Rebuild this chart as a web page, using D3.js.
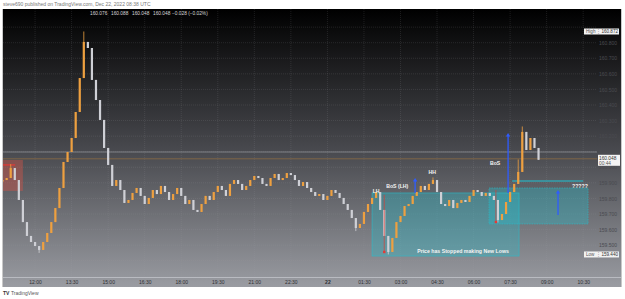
<!DOCTYPE html>
<html>
<head>
<meta charset="utf-8">
<script src="https://cdn.jsdelivr.net/npm/d3@7"></script>
<style>
body { margin: 0; background: #fff; }
svg { display: block; font-family: "Liberation Sans", Arial, sans-serif; }
</style>
</head>
<body>
<script>
var w = 625; // Width of the page
var h = 299; // Height of the page
var paneLeft = 3, paneRight = 597, frameRight = 621;
var paneTop = 9, paneBottom = 277, frameBottom = 287;

// helper for dates (Dec 2022)
function T(day, hh, mm) { return new Date(2022, 11, day, hh, mm); }

// 10 minute bars, first bar Dec 21 10:40
var firstBar = T(21, 10, 40);
var barMinutes = 10;
var closes = [
  159.918, 159.931, 159.995, 159.918, 159.790, 159.648, 159.559, 159.520, 159.494, 159.469,
  159.520, 159.578, 159.648, 159.738, 159.867, 160.034, 160.098, 160.188, 160.355, 160.573,
  160.805, 160.766, 160.561, 160.432, 160.304, 160.124, 160.015, 159.880, 159.918, 159.854,
  159.771, 159.790, 159.835, 159.867, 159.816, 159.764, 159.803, 159.854, 159.828, 159.880,
  159.841, 159.790, 159.828, 159.867, 159.816, 159.764, 159.790, 159.726, 159.713, 159.764,
  159.816, 159.790, 159.841, 159.880, 159.854, 159.816, 159.893, 159.918, 159.893, 159.854,
  159.880, 159.918, 159.944, 159.931, 159.893, 159.880, 159.931, 159.957, 159.918, 159.931,
  159.963, 159.950, 159.918, 159.880, 159.905, 159.867, 159.841, 159.816, 159.828, 159.790,
  159.816, 159.854, 159.835, 159.803, 159.764, 159.726, 159.674, 159.610, 159.636, 159.713,
  159.764, 159.803, 159.841, 159.726, 159.559, 159.456, 159.546, 159.648, 159.687, 159.751,
  159.764, 159.816, 159.841, 159.880, 159.854, 159.893, 159.918, 159.841, 159.764, 159.751,
  159.790, 159.738, 159.771, 159.790, 159.777, 159.816, 159.854, 159.841, 159.816, 159.835,
  159.816, 159.790, 159.661, 159.700, 159.777, 159.841, 159.893, 159.970, 160.227, 160.111,
  160.188, 160.124, 160.048
];
// a few long wicks seen on the chart: [bar index, price]
var wickHighs = [[2, 160.020], [20, 160.872], [106, 159.935], [127, 160.050], [128, 160.262]];
var wickLows = [[9, 159.450], [87, 159.590], [95, 159.440], [122, 159.645]];

var timeTicks = [T(21,12,0), T(21,13,30), T(21,15,0), T(21,16,30), T(21,18,0), T(21,19,30),
  T(21,21,0), T(21,22,30), T(22,0,0), T(22,1,30), T(22,3,0), T(22,4,30), T(22,6,0),
  T(22,7,30), T(22,9,0), T(22,10,30)];
var priceTicks = [159.4, 159.5, 159.6, 159.7, 159.8, 159.9, 160.0, 160.1, 160.2, 160.3,
  160.4, 160.5, 160.6, 160.7, 160.8, 160.9];
var highPrice = 160.872, lowPrice = 159.440, lastPrice = 160.048, refLine = 160.098;
var legendValues = ["160.076", "160.088", "160.048", "160.048", "\u22120.028 (\u22120.02%)"];

// drawings
var boxes = [
  { t0: T(21,10,41), t1: T(21,11,30), p0: 160.047, p1: 159.848, kind: "red" },
  { t0: T(22,1,50), t1: T(22,7,52), p0: 159.835, p1: 159.430, kind: "teal" },
  { t0: T(22,6,38), t1: T(22,10,42), p0: 159.867, p1: 159.636, kind: "teal2" }
];
var hLines = [
  { t0: T(21,10,41), t1: T(21,11,11), p: 160.015, color: "#e53935" },
  { t0: T(22,7,35), t1: T(22,10,30), p: 159.912, color: "#1fc3d6" }
];
var arrows = [
  { t: T(22,3,36), p0: 159.835, p1: 159.931 },
  { t: T(22,7,25), p0: 159.835, p1: 160.220 },
  { t: T(22,9,28), p0: 159.693, p1: 159.854 }
];
var lowMarks = [
  { t: T(22,2,20), p0: 159.822, p1: 159.456 },
  { t: T(22,6,55), p0: 159.854, p1: 159.648 }
];
var notes = [
  { t: T(22,2,0), p: 159.848, text: "LH" },
  { t: T(22,2,52), p: 159.880, text: "BoS (LH)" },
  { t: T(22,4,18), p: 159.970, text: "HH" },
  { t: T(22,6,53), p: 160.027, text: "BoS" },
  { t: T(22,5,34), p: 159.462, text: "Price has Stopped making New Lows" },
  { t: T(22,10,22), p: 159.880, text: "?????" }
];

// scales
var xScale = d3.scaleTime()
  .domain([T(21, 10, 41), T(22, 11, 4)])
  .range([paneLeft, paneRight]);
var yScale = d3.scaleLinear()
  .domain([159.2953, 161.0165])
  .range([paneBottom, paneTop]);

var svg = d3.select("body").append("svg")
  .attr("width", w)
  .attr("height", h);

var defs = svg.append("defs");
var grad = defs.append("linearGradient")
  .attr("id", "bg")
  .attr("gradientUnits", "userSpaceOnUse")
  .attr("x1", 0).attr("y1", paneTop).attr("x2", 0).attr("y2", frameBottom);
grad.append("stop").attr("offset", 0).attr("stop-color", "#000000");
grad.append("stop").attr("offset", 0.5).attr("stop-color", "#47484d");
grad.append("stop").attr("offset", 1).attr("stop-color", "#9a9ca2");
defs.append("clipPath").attr("id", "pane").append("rect")
  .attr("x", paneLeft).attr("y", paneTop)
  .attr("width", paneRight - paneLeft).attr("height", paneBottom - paneTop);

// header
svg.append("text")
  .attr("x", 3).attr("y", 6)
  .attr("font-size", 5).attr("fill", "#777")
  .text("steve690 published on TradingView.com, Dec 22, 2022 08:38 UTC");

// background
svg.append("rect")
  .attr("x", paneLeft).attr("y", paneTop)
  .attr("width", frameRight - paneLeft).attr("height", frameBottom - paneTop)
  .attr("fill", "url(#bg)");

// grid
var grid = svg.append("g").attr("clip-path", "url(#pane)")
  .attr("stroke", "rgba(160,162,170,0.16)").attr("stroke-dasharray", "1,1");
grid.selectAll(".vg").data(timeTicks).join("line")
  .attr("x1", function(d) { return xScale(d); })
  .attr("x2", function(d) { return xScale(d); })
  .attr("y1", paneTop).attr("y2", paneBottom);
grid.selectAll(".hg").data(priceTicks).join("line")
  .attr("class", "hg")
  .attr("x1", paneLeft).attr("x2", paneRight)
  .attr("y1", function(d) { return yScale(d); })
  .attr("y2", function(d) { return yScale(d); });

// frame lines
svg.append("line").attr("x1", paneLeft).attr("x2", frameRight)
  .attr("y1", paneBottom + 0.5).attr("y2", paneBottom + 0.5)
  .attr("stroke", "#b9bbc1").attr("stroke-width", 1);
svg.append("line").attr("x1", paneLeft - 0.5).attr("x2", paneLeft - 0.5)
  .attr("y1", paneTop).attr("y2", frameBottom)
  .attr("stroke", "#c8c8c8");
svg.append("line").attr("x1", frameRight + 0.5).attr("x2", frameRight + 0.5)
  .attr("y1", paneTop).attr("y2", frameBottom)
  .attr("stroke", "#c8c8c8");

var pane = svg.append("g").attr("clip-path", "url(#pane)");

// boxes
pane.selectAll(".box").data(boxes).join("rect")
  .attr("x", function(d) { return xScale(d.t0); })
  .attr("y", function(d) { return yScale(d.p0); })
  .attr("width", function(d) { return xScale(d.t1) - xScale(d.t0); })
  .attr("height", function(d) { return yScale(d.p1) - yScale(d.p0); })
  .attr("fill", function(d) {
    return d.kind == "red" ? "rgba(214,84,72,0.42)" : "rgba(34,190,205,0.33)";
  })
  .attr("stroke", function(d) {
    return d.kind == "red" ? "none" : "rgba(40,190,205,0.8)";
  })
  .attr("stroke-width", 0.7)
  .attr("stroke-dasharray", function(d) { return d.kind == "teal2" ? "1.5,1" : null; });

// reference lines
pane.append("line")
  .attr("x1", paneLeft).attr("x2", paneRight)
  .attr("y1", yScale(refLine)).attr("y2", yScale(refLine))
  .attr("stroke", "#8d8f95").attr("stroke-width", 0.8);
pane.append("line")
  .attr("x1", paneLeft).attr("x2", paneRight)
  .attr("y1", yScale(lastPrice) - 1).attr("y2", yScale(lastPrice) - 1)
  .attr("stroke", "#8a6a44").attr("stroke-width", 0.8);

pane.selectAll(".hl").data(hLines).join("line")
  .attr("x1", function(d) { return xScale(d.t0); })
  .attr("x2", function(d) { return xScale(d.t1); })
  .attr("y1", function(d) { return yScale(d.p); })
  .attr("y2", function(d) { return yScale(d.p); })
  .attr("stroke", function(d) { return d.color; })
  .attr("stroke-width", 1.2);

// candles
var bars = closes.map(function(c, i) {
  var o = i > 0 ? closes[i - 1] : c;
  var hi = Math.max(o, c), lo = Math.min(o, c);
  wickHighs.forEach(function(e) { if (e[0] == i) hi = Math.max(hi, e[1]); });
  wickLows.forEach(function(e) { if (e[0] == i) lo = Math.min(lo, e[1]); });
  return { t: d3.timeMinute.offset(firstBar, i * barMinutes), o: o, c: c, hi: hi, lo: lo };
});
var upColor = "#eea040", downColor = "#cfd0d6";
var candle = pane.selectAll(".candle").data(bars).join("g");
candle.append("line")
  .attr("x1", function(d) { return xScale(d.t); })
  .attr("x2", function(d) { return xScale(d.t); })
  .attr("y1", function(d) { return yScale(d.hi); })
  .attr("y2", function(d) { return yScale(d.lo); })
  .attr("stroke", function(d) { return d.c >= d.o ? upColor : downColor; })
  .attr("stroke-width", 0.8);
candle.append("rect")
  .attr("x", function(d) { return xScale(d.t) - 1.1; })
  .attr("y", function(d) { return yScale(Math.max(d.o, d.c)); })
  .attr("width", 2.2)
  .attr("height", function(d) { return Math.max(1.5, yScale(Math.min(d.o, d.c)) - yScale(Math.max(d.o, d.c))); })
  .attr("fill", function(d) { return d.c >= d.o ? upColor : downColor; });

// red low markers
pane.selectAll(".lm").data(lowMarks).join("line")
  .attr("x1", function(d) { return xScale(d.t); })
  .attr("x2", function(d) { return xScale(d.t); })
  .attr("y1", function(d) { return yScale(d.p0); })
  .attr("y2", function(d) { return yScale(d.p1); })
  .attr("stroke", "rgba(220,60,50,0.85)").attr("stroke-width", 0.8);
pane.selectAll(".ld").data(lowMarks).join("rect")
  .attr("x", function(d) { return xScale(d.t) - 1.2; })
  .attr("y", function(d) { return yScale(d.p1) - 1.2; })
  .attr("width", 2.4).attr("height", 2.4)
  .attr("fill", "#e53935");

// blue arrows
var arrow = pane.selectAll(".ar").data(arrows).join("g");
arrow.append("line")
  .attr("x1", function(d) { return xScale(d.t); })
  .attr("x2", function(d) { return xScale(d.t); })
  .attr("y1", function(d) { return yScale(d.p0); })
  .attr("y2", function(d) { return yScale(d.p1) + 2; })
  .attr("stroke", "#2f5cff").attr("stroke-width", 1.3);
arrow.append("path")
  .attr("d", function(d) {
    var x = xScale(d.t), y = yScale(d.p1);
    return "M" + (x - 2.2) + "," + (y + 3.5) + "L" + x + "," + y + "L" + (x + 2.2) + "," + (y + 3.5) + "Z";
  })
  .attr("fill", "#2f5cff");

// notes
pane.selectAll(".note").data(notes).join("text")
  .attr("x", function(d) { return xScale(d.t); })
  .attr("y", function(d) { return yScale(d.p) + 1.8; })
  .attr("text-anchor", "middle")
  .attr("font-size", 5.2).attr("font-weight", "bold")
  .attr("fill", "#f4f4f4")
  .text(function(d) { return d.text; });

// OHLC legend
var legendX = [90, 111, 132, 153, 172];
svg.selectAll(".lg").data(legendValues).join("text")
  .attr("x", function(d, i) { return legendX[i]; })
  .attr("y", 15)
  .attr("font-size", 4.8).attr("fill", "#d8d8d8")
  .text(function(d) { return d; });

// time axis
var xAxis = d3.axisBottom(xScale)
  .tickValues(timeTicks)
  .tickSize(0)
  .tickFormat(function(d) {
    return d.getHours() == 0 && d.getMinutes() == 0 ? d3.timeFormat("%d")(d) : d3.timeFormat("%H:%M")(d);
  });
var xg = svg.append("g")
  .attr("transform", "translate(0," + paneBottom + ")")
  .call(xAxis);
xg.select(".domain").remove();
xg.selectAll("text")
  .attr("dy", 0).attr("y", 7)
  .attr("font-size", 5).attr("fill", "#2e2f33")
  .attr("font-family", "Liberation Sans, Arial, sans-serif")
  .attr("font-weight", function(d) { return d.getHours() == 0 ? "bold" : null; });

// price axis: skip ticks hidden behind the badges
var badges = [highPrice, lowPrice, lastPrice];
var shownTicks = priceTicks.filter(function(p) {
  return badges.every(function(b) { return Math.abs(yScale(p) - yScale(b)) > 6.5; });
});
var yAxis = d3.axisRight(yScale)
  .tickValues(shownTicks)
  .tickSize(0)
  .tickFormat(d3.format(".3f"));
var yg = svg.append("g")
  .attr("transform", "translate(" + paneRight + ",0)")
  .call(yAxis);
yg.select(".domain").remove();
yg.selectAll("text")
  .attr("x", 20).attr("text-anchor", "end")
  .attr("font-size", 5).attr("fill", "#4a4b50")
  .attr("font-family", "Liberation Sans, Arial, sans-serif");

// high / low badges
[{ label: "High", p: highPrice }, { label: "Low", p: lowPrice }].forEach(function(b) {
  var y = yScale(b.p);
  svg.append("rect").attr("x", 584).attr("y", y - 3).attr("width", 35).attr("height", 6)
    .attr("fill", "#f2f2f2");
  svg.append("text").attr("x", 586).attr("y", y + 1.7)
    .attr("font-size", 4.6).attr("fill", "#555").text(b.label);
  svg.append("text").attr("x", 596).attr("y", y + 1.7)
    .attr("font-size", 4.6).attr("fill", "#999").text("\u22EE");
  svg.append("text").attr("x", 618).attr("y", y + 1.7).attr("text-anchor", "end")
    .attr("font-size", 4.6).attr("fill", "#333").text(d3.format(".3f")(b.p));
});

// last price badge
var ly = yScale(lastPrice);
svg.append("rect").attr("x", paneRight + 1).attr("y", ly - 5).attr("width", 22).attr("height", 11)
  .attr("fill", "#f4f4f4");
svg.append("text").attr("x", 599).attr("y", ly + 0.5)
  .attr("font-size", 4.8).attr("fill", "#333").text(d3.format(".3f")(lastPrice));
svg.append("text").attr("x", 599).attr("y", ly + 5)
  .attr("font-size", 4.8).attr("fill", "#555").text("00:44");

// footer logo
svg.append("text").attr("x", 3).attr("y", 295)
  .attr("font-size", 5).attr("font-weight", "bold").attr("fill", "#333").text("TV");
svg.append("text").attr("x", 11).attr("y", 295)
  .attr("font-size", 5).attr("fill", "#555").text("TradingView");
</script>
</body>
</html>
